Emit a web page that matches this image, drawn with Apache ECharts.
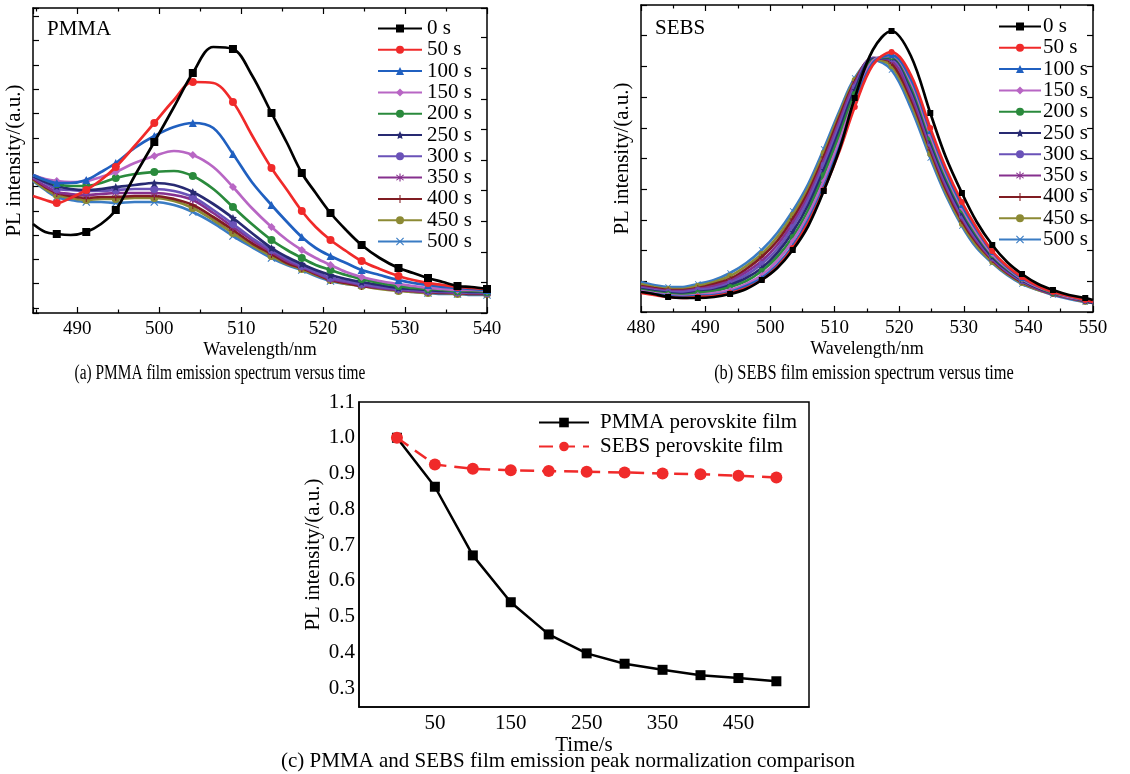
<!DOCTYPE html>
<html>
<head>
<meta charset="utf-8">
<script src="https://cdn.jsdelivr.net/npm/echarts@6/dist/echarts.min.js"></script>
<style>html,body{margin:0;padding:0;background:#fff}#chart{width:1130px;height:774px}</style>
</head>
<body>
<div id="chart"></div>
<script>
// ---------- DATA ----------
const seriesNames = ['0 s','50 s','100 s','150 s','200 s','250 s','300 s','350 s','400 s','450 s','500 s'];

// (a) PMMA film emission spectra, wavelength (nm) and intensity (a.u.)
const pmmaWavelength = [484.6,486.1,487.5,489.2,491.1,492.9,494.7,497.0,499.4,501.8,504.1,506.6,509.0,511.3,513.7,515.6,517.4,519.1,520.9,522.8,524.7,526.9,529.2,531.0,532.8,534.6,536.4,538.1,540.0];
const pmma0s   = [84,76,74,73,76,84,98,132,166,201,235,261,259,233,195,165,135,115,95,78,63,50,40,35,30,26,22,21,19];
const pmma50s  = [112,108,105,110,118,128,141,162,185,208,226,225,206,173,140,118,97,81,68,57,47,39,32,28,25,23,21,20,19];
const pmma100s = [133,128,125,125,128,136,145,160,172,181,185,180,154,126,103,86,71,60,52,45,38,33,28,25,23,21,20,19,18];
const pmma150s = [133,129,127,126,127,131,136,145,152,157,153,141,121,100,81,68,58,50,43,36,31,27,24,22,20,19,18,18,17];
const pmma200s = [133,128,124,122,122,125,130,134,136,137,132,119,101,84,68,58,50,43,38,33,29,25,22,20,19,18,17,17,16];
const pmma250s = [132,126,122,119,118,119,121,123,125,123,116,104,90,75,60,51,44,38,33,29,26,23,20,19,18,17,17,16,16];
const pmma300s = [131,125,119,118,117,117,118,119,119,117,111,98,84,70,58,49,42,36,30,27,24,21,19,18,17,16,16,15,15];
const pmma350s = [130,122,116,114,113,114,115,115,115,113,108,95,81,68,56,47,41,35,29,26,23,20,18,17,16,16,15,15,15];
const pmma400s = [129,121,115,112,110,111,111,112,112,109,103,91,78,65,54,45,40,34,28,25,22,20,18,17,16,15,15,14,14];
const pmma450s = [128,119,113,110,108,109,109,110,110,107,100,88,75,63,52,44,39,33,28,24,22,19,17,16,15,15,14,14,14];
const pmma500s = [127,118,111,108,106,106,105,106,106,103,96,85,72,61,50,43,38,32,27,24,23,20,18,16,15,14,14,13,13];

// (b) SEBS film emission spectra
const sebsWavelength = [480.0,482.0,484.2,486.5,488.8,491.3,493.8,496.3,498.7,501.1,503.5,505.9,508.3,510.8,513.1,515.9,518.8,521.8,524.8,527.2,529.7,532.0,534.4,536.7,539.0,541.5,543.8,546.3,548.8,550.0];
const sebs0s   = [20,18,15,14,14,15,18,23,32,44,62,86,121,164,214,262,281,256,199,155,119,90,67,50,38,28,22,17,14,12];
const sebs50s  = [19,17,15,14,15,16,19,24,32,45,64,89,122,162,205,247,260,237,184,144,110,84,61,46,35,26,20,16,12,10];
const sebs100s = [20,18,16,15,16,17,20,26,34,47,66,92,125,166,208,249,257,233,181,141,107,82,60,45,34,26,20,16,12,10];
const sebs150s = [21,19,17,16,17,19,22,28,37,51,71,97,131,172,213,251,256,230,177,138,104,79,58,44,33,25,20,15,12,10];
const sebs200s = [22,20,18,17,19,21,25,31,41,55,75,102,137,178,218,252,255,227,174,135,102,77,57,43,33,25,19,15,12,10];
const sebs250s = [23,21,19,18,20,22,27,34,44,59,80,107,142,183,222,253,254,224,171,132,99,75,55,42,32,24,19,15,11,9];
const sebs300s = [24,22,20,20,22,24,29,37,48,63,85,112,147,188,225,254,253,221,168,129,96,73,54,41,31,24,19,15,11,9];
const sebs350s = [25,23,21,21,23,26,31,40,51,67,89,116,151,192,228,254,251,217,165,126,94,71,53,40,31,23,18,14,11,9];
const sebs400s = [26,24,22,22,24,28,33,43,55,71,93,120,155,196,230,254,249,213,162,123,91,69,52,39,30,23,18,14,11,9];
const sebs450s = [28,25,23,23,26,30,36,46,58,75,97,124,159,199,232,253,246,209,158,120,88,66,50,38,29,22,18,14,10,9];
const sebs500s = [30,27,25,25,28,32,39,49,62,79,101,128,163,202,234,252,242,204,154,117,86,64,49,37,28,22,17,13,10,9];

// (c) normalized emission peak vs time
const timeSeconds = [0,50,100,150,200,250,300,350,400,450,500];
const pmmaPeakNorm = [1.0,0.863,0.671,0.540,0.450,0.397,0.368,0.351,0.336,0.328,0.319];
const sebsPeakNorm = [1.0,0.925,0.913,0.909,0.907,0.905,0.903,0.900,0.898,0.894,0.889];

const xTicksA = [490,500,510,520,530,540];
const xTicksB = [480,490,500,510,520,530,540,550];
const xTicksC = [50,150,250,350,450];
const yTicksC = [0.3,0.4,0.5,0.6,0.7,0.8,0.9,1.0,1.1];

// ---------- STYLE ----------
const serif = '"Liberation Serif","Times New Roman",serif';
const colors = ['#000000','#f02a2a','#2060c0','#b866c4','#2a8a3c','#282a72','#6a52b8','#86308e','#801c22','#8c8a34','#3a7cc4'];
const pStar = 'path://M0,-10L2.9,-4L9.5,-3.1L4.7,1.5L5.9,8.1L0,5L-5.9,8.1L-4.7,1.5L-9.5,-3.1L-2.9,-4Z';
const pX = 'path://M-10,-8L-8,-10L0,-2L8,-10L10,-8L2,0L10,8L8,10L0,2L-8,10L-10,8L-2,0Z';
const pPlus = 'path://M-1.3,-10L1.3,-10L1.3,-1.3L10,-1.3L10,1.3L1.3,1.3L1.3,10L-1.3,10L-1.3,1.3L-10,1.3L-10,-1.3L-1.3,-1.3Z';
const pAst = 'path://M-1.2,-10L1.2,-10L1.2,-2L7,-7.5L8.5,-6L2,0L8.5,6L7,7.5L1.2,2L1.2,10L-1.2,10L-1.2,2L-7,7.5L-8.5,6L-2,0L-8.5,-6L-7,-7.5L-1.2,-2Z';
const symbols = ['rect','circle','triangle','diamond','circle',pStar,'circle',pAst,pPlus,'circle',pX];

const pmmaSets = [pmma0s,pmma50s,pmma100s,pmma150s,pmma200s,pmma250s,pmma300s,pmma350s,pmma400s,pmma450s,pmma500s];
const sebsSets = [sebs0s,sebs50s,sebs100s,sebs150s,sebs200s,sebs250s,sebs300s,sebs350s,sebs400s,sebs450s,sebs500s];

function spectra(wl, sets, xi, yi, msize) {
  return sets.map((arr, k) => ({
    type: 'line', name: seriesNames[k], xAxisIndex: xi, yAxisIndex: yi,
    data: wl.map((w, i) => [w, arr[i]]),
    smooth: 0.35, showAllSymbol: true,
    symbol: symbols[k],
    symbolSize: (v, p) => (p.dataIndex % 2 === 0 && p.dataIndex > 0) ? msize : 0,
    itemStyle: { color: colors[k] },
    lineStyle: { color: colors[k], width: 2.7 },
    z: 20 - k,
    animation: false
  }));
}

const axisLineStyle = { show: true, onZero: false, lineStyle: { color: '#000', width: 1.5 } };
const tickIn = { show: true, inside: true, length: 6, lineStyle: { color: '#000', width: 1.2 } };
const minorIn = { show: true, splitNumber: 2, length: 3.5, lineStyle: { color: '#000', width: 1.2 } };
const labelTop = { color: '#000', fontFamily: serif, fontSize: 19 };
const labelC = { color: '#000', fontFamily: serif, fontSize: 21 };
const nameTop = { color: '#000', fontFamily: serif, fontSize: 18 };
const nameV = { color: '#000', fontFamily: serif, fontSize: 21 };

const legendText = { color: '#000', fontFamily: serif, fontSize: 21, lineHeight: 20 };

const option = {
  backgroundColor: '#fff',
  animation: false,
  grid: [
    { left: 33, top: 8, width: 454, height: 305, outerBoundsMode: 'none' },
    { left: 641, top: 5, width: 452, height: 307, outerBoundsMode: 'none' },
    { left: 359, top: 402, width: 450, height: 305, show: true, borderColor: '#000', borderWidth: 1.5, outerBoundsMode: 'none' }
  ],
  xAxis: [
    { gridIndex: 0, type: 'value', min: 484.6, max: 540, minInterval: 10, maxInterval: 10,
      name: 'Wavelength/nm', nameLocation: 'middle', nameGap: 28, nameTextStyle: nameTop,
      axisLine: axisLineStyle, axisTick: tickIn, minorTick: minorIn, splitLine: { show: false },
      axisLabel: Object.assign({ margin: 7, showMinLabel: false, formatter: v => xTicksA.includes(Math.round(v)) && Math.abs(v - Math.round(v)) < 1e-6 ? String(Math.round(v)) : '' }, labelTop) },
    { gridIndex: 0, type: 'value', position: 'top', min: 484.6, max: 540, minInterval: 10, maxInterval: 10,
      axisLine: axisLineStyle, axisTick: tickIn, minorTick: minorIn, splitLine: { show: false }, axisLabel: { show: false } },
    { gridIndex: 1, type: 'value', min: 480, max: 550, interval: 10,
      name: 'Wavelength/nm', nameLocation: 'middle', nameGap: 28, nameTextStyle: nameTop,
      axisLine: axisLineStyle, axisTick: tickIn, minorTick: minorIn, splitLine: { show: false },
      axisLabel: Object.assign({ margin: 7, formatter: v => xTicksB.includes(v) ? String(v) : '' }, labelTop) },
    { gridIndex: 1, type: 'value', position: 'top', min: 480, max: 550, interval: 10,
      axisLine: axisLineStyle, axisTick: tickIn, minorTick: minorIn, splitLine: { show: false }, axisLabel: { show: false } },
    { gridIndex: 2, type: 'value', min: -50, max: 543, minInterval: 50, maxInterval: 50,
      name: 'Time/s', nameLocation: 'middle', nameGap: 24, nameTextStyle: nameV,
      axisLine: axisLineStyle, axisTick: { show: false }, splitLine: { show: false },
      axisLabel: Object.assign({ margin: 6, showMinLabel: false, showMaxLabel: false, formatter: v => xTicksC.includes(v) ? String(v) : '' }, labelC) }
  ],
  yAxis: [
    { gridIndex: 0, type: 'value', min: -5, max: 300, minInterval: 24.3, maxInterval: 24.3,
      name: 'PL intensity/(a.u.)', nameLocation: 'middle', nameGap: 8, nameTextStyle: nameV,
      axisLine: axisLineStyle, axisTick: tickIn, splitLine: { show: false }, axisLabel: { show: false } },
    { gridIndex: 0, type: 'value', position: 'right', min: 0, max: 305, minInterval: 30.6, maxInterval: 30.6,
      axisLine: axisLineStyle, axisTick: tickIn, splitLine: { show: false }, axisLabel: { show: false } },
    { gridIndex: 1, type: 'value', min: 0, max: 307, minInterval: 30.7, maxInterval: 30.7,
      name: 'PL intensity/(a.u.)', nameLocation: 'middle', nameGap: 8, nameTextStyle: nameV,
      axisLine: axisLineStyle, axisTick: tickIn, splitLine: { show: false }, axisLabel: { show: false } },
    { gridIndex: 1, type: 'value', position: 'right', min: 0, max: 307, minInterval: 30.7, maxInterval: 30.7,
      axisLine: axisLineStyle, axisTick: tickIn, splitLine: { show: false }, axisLabel: { show: false } },
    { gridIndex: 2, type: 'value', min: 0.247, max: 1.1, minInterval: 0.1, maxInterval: 0.1,
      name: 'PL intensity/(a.u.)', nameLocation: 'middle', nameGap: 35, nameTextStyle: nameV,
      axisLine: axisLineStyle, axisTick: { show: false }, splitLine: { show: false },
      axisLabel: Object.assign({ margin: 4, showMinLabel: false, formatter: v => { const t = yTicksC.find(q => Math.abs(q - v) < 1e-6); return t === undefined ? '' : t.toFixed(1); } }, labelC) }
  ],
  legend: [
    { orient: 'vertical', left: 377, top: 18, padding: 0, itemWidth: 44, itemHeight: 10, itemGap: 0.3,
      data: seriesNames, textStyle: Object.assign({ padding: [0,0,0,0] }, legendText), selectedMode: false },
    { orient: 'vertical', left: 998, top: 16, padding: 0, itemWidth: 42, itemHeight: 10, itemGap: 0.3,
      data: seriesNames, textStyle: Object.assign({ padding: [0,0,0,-3] }, legendText), selectedMode: false },
    { orient: 'vertical', left: 538, top: 412, padding: 0, itemWidth: 50, itemHeight: 12, itemGap: 3,
      data: ['PMMA perovskite film','SEBS perovskite film'],
      textStyle: Object.assign({ padding: [0,0,0,6] }, legendText), selectedMode: false }
  ],
  graphic: [
    { type: 'text', left: 47, top: 19, style: { text: 'PMMA', fill: '#000', font: '21px ' + serif } },
    { type: 'text', left: 655, top: 18, style: { text: 'SEBS', fill: '#000', font: '21px ' + serif } },
    { type: 'text', x: 220, y: 374, scaleX: 0.77, style: { text: '(a) PMMA film emission spectrum versus time', fill: '#000', font: '20px ' + serif, align: 'center', verticalAlign: 'middle' } },
    { type: 'text', x: 864, y: 374, scaleX: 0.82, style: { text: '(b) SEBS film emission spectrum versus time', fill: '#000', font: '20px ' + serif, align: 'center', verticalAlign: 'middle' } },
    { type: 'text', x: 568, y: 761, style: { text: '(c) PMMA and SEBS film emission peak normalization comparison', fill: '#000', font: '21px ' + serif, align: 'center', verticalAlign: 'middle' } }
  ],
  series: [].concat(
    spectra(pmmaWavelength, pmmaSets, 0, 0, 8),
    spectra(sebsWavelength, sebsSets, 2, 2, 6),
    [
      { type: 'line', name: 'PMMA perovskite film', xAxisIndex: 4, yAxisIndex: 4,
        data: timeSeconds.map((t, i) => [t, pmmaPeakNorm[i]]),
        symbol: 'rect', symbolSize: 10, itemStyle: { color: '#000' }, lineStyle: { color: '#000', width: 2.5 }, z: 5 },
      { type: 'line', name: 'SEBS perovskite film', xAxisIndex: 4, yAxisIndex: 4,
        data: timeSeconds.map((t, i) => [t, sebsPeakNorm[i]]),
        symbol: 'circle', symbolSize: 12, itemStyle: { color: '#f02a2a' }, lineStyle: { color: '#f02a2a', width: 2.5, type: [14, 8] }, z: 6 }
    ]
  )
};

const chart = echarts.init(document.getElementById('chart'), null, { renderer: 'canvas' });
chart.setOption(option);
</script>
</body>
</html>
